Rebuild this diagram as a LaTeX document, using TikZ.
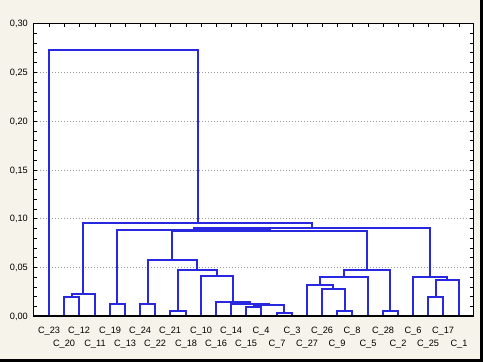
\documentclass[tikz,border=0pt]{standalone}
\usepackage{fontspec}
\setmainfont{Liberation Sans}
\definecolor{bgcream}{RGB}{246,244,234}
\definecolor{dendblue}{RGB}{40,40,225}
\begin{document}
\begin{tikzpicture}[x=1pt,y=-1pt,
  dend/.style={draw=dendblue,line width=2pt,line join=miter},
  frameline/.style={draw=black,line width=1pt},
  gridline/.style={draw=black!40,dotted,line width=1pt},
  tick/.style={draw=black,line width=1pt},
  leaflab/.style={font=\fontsize{9.2}{10}\selectfont,inner sep=0pt,anchor=base},
  ylab/.style={font=\fontsize{9.2}{10}\selectfont,inner sep=0pt,anchor=base east}]
\useasboundingbox (0,0) rectangle (483,362);
\fill[bgcream] (0,0) rectangle (483,362);
\fill[black] (480,0) rectangle (483,362);
\fill[black] (0,358.5) rectangle (483,362);
\fill[white] (33.5,23.5) rectangle (473.5,316);
% grid
\foreach \v in {1,...,5} {
  \pgfmathsetmacro\gy{round(316-48.8*\v)+0.5}
  \draw[gridline] (34,\gy) -- (473,\gy);
}
% ticks left/right
\foreach \k in {0,...,30} {
  \pgfmathsetmacro\yy{round(316-9.76*\k)+0.5}
  \draw[tick] (33.5,\yy) -- (37,\yy);
  \draw[tick] (473.5,\yy) -- (470,\yy);
}
% y labels
\node[ylab] (y0) at (28,319.5) {0,00};
\node[ylab] (y1) at (28,270.7) {0,05};
\node[ylab] (y2) at (28,221.9) {0,10};
\node[ylab] (y3) at (28,173.1) {0,15};
\node[ylab] (y4) at (28,124.3) {0,20};
\node[ylab] (y5) at (28,75.5) {0,25};
\node[ylab] (y6) at (28,26.7) {0,30};
% leaves
\foreach \i/\n in {0/23,1/20,2/12,3/11,4/19,5/13,6/24,7/22,8/21,9/18,10/10,11/16,12/14,13/15,14/4,15/7,16/3,17/27,18/26,19/9,20/8,21/5,22/28,23/2,24/6,25/25,26/17,27/1} {
  \pgfmathsetmacro\xx{round(49+15.17*\i)}
  \coordinate (c\n) at (\xx,316);
  \draw[tick] (\xx+0.5,23.5) -- (\xx+0.5,27);
  \pgfmathsetmacro\ly{mod(\i,2)==0 ? 333 : 346.5}
  \node[leaflab] (lab\n) at (\xx,\ly) {C\_\n};
}
% merge points
\coordinate (m1) at (72,297);
\coordinate (m2) at (83,294);
\coordinate (m3) at (117,304);
\coordinate (m4) at (148,304);
\coordinate (m5) at (178,311);
\coordinate (m6) at (254,307);
\coordinate (m7) at (284,313);
\coordinate (m8) at (269,305);
\coordinate (m9) at (250,304);
\coordinate (m10) at (233,302);
\coordinate (m11) at (217,276);
\coordinate (m12) at (197,270);
\coordinate (m13) at (172,260);
\coordinate (m14) at (345,311);
\coordinate (m15) at (333,289);
\coordinate (m16) at (320,285);
\coordinate (m17) at (344,277);
\coordinate (m18) at (390,311);
\coordinate (m19) at (367,270);
\coordinate (m20) at (270,231);
\coordinate (m21) at (194,230);
\coordinate (m22) at (436,297);
\coordinate (m23) at (447,280);
\coordinate (m24) at (430,277);
\coordinate (m25) at (312,228);
\coordinate (m26) at (198,223);
\coordinate (root) at (123,50);
% dendrogram
\draw[dend] (c20) |- (m1) -| (c12);
\draw[dend] (m1) |- (m2) -| (c11);
\draw[dend] (c19) |- (m3) -| (c13);
\draw[dend] (c24) |- (m4) -| (c22);
\draw[dend] (c21) |- (m5) -| (c18);
\draw[dend] (c15) |- (m6) -| (c4);
\draw[dend] (c7) |- (m7) -| (c3);
\draw[dend] (m6) |- (m8) -| (m7);
\draw[dend] (c14) |- (m9) -| (m8);
\draw[dend] (c16) |- (m10) -| (m9);
\draw[dend] (c10) |- (m11) -| (m10);
\draw[dend] (m5) |- (m12) -| (m11);
\draw[dend] (m4) |- (m13) -| (m12);
\draw[dend] (c9) |- (m14) -| (c8);
\draw[dend] (c26) |- (m15) -| (m14);
\draw[dend] (c27) |- (m16) -| (m15);
\draw[dend] (m16) |- (m17) -| (c5);
\draw[dend] (c28) |- (m18) -| (c2);
\draw[dend] (m17) |- (m19) -| (m18);
\draw[dend] (m13) |- (m20) -| (m19);
\draw[dend] (m3) |- (m21) -| (m20);
\draw[dend] (c25) |- (m22) -| (c17);
\draw[dend] (m22) |- (m23) -| (c1);
\draw[dend] (c6) |- (m24) -| (m23);
\draw[dend] (m21) |- (m25) -| (m24);
\draw[dend] (m2) |- (m26) -| (m25);
\draw[dend] (c23) |- (root) -| (m26);
% frame
\draw[frameline] (33.5,23.5) rectangle (473.5,316);
\draw[black,line width=2pt] (33.5,316) -- (473.5,316);
\end{tikzpicture}
\end{document}
